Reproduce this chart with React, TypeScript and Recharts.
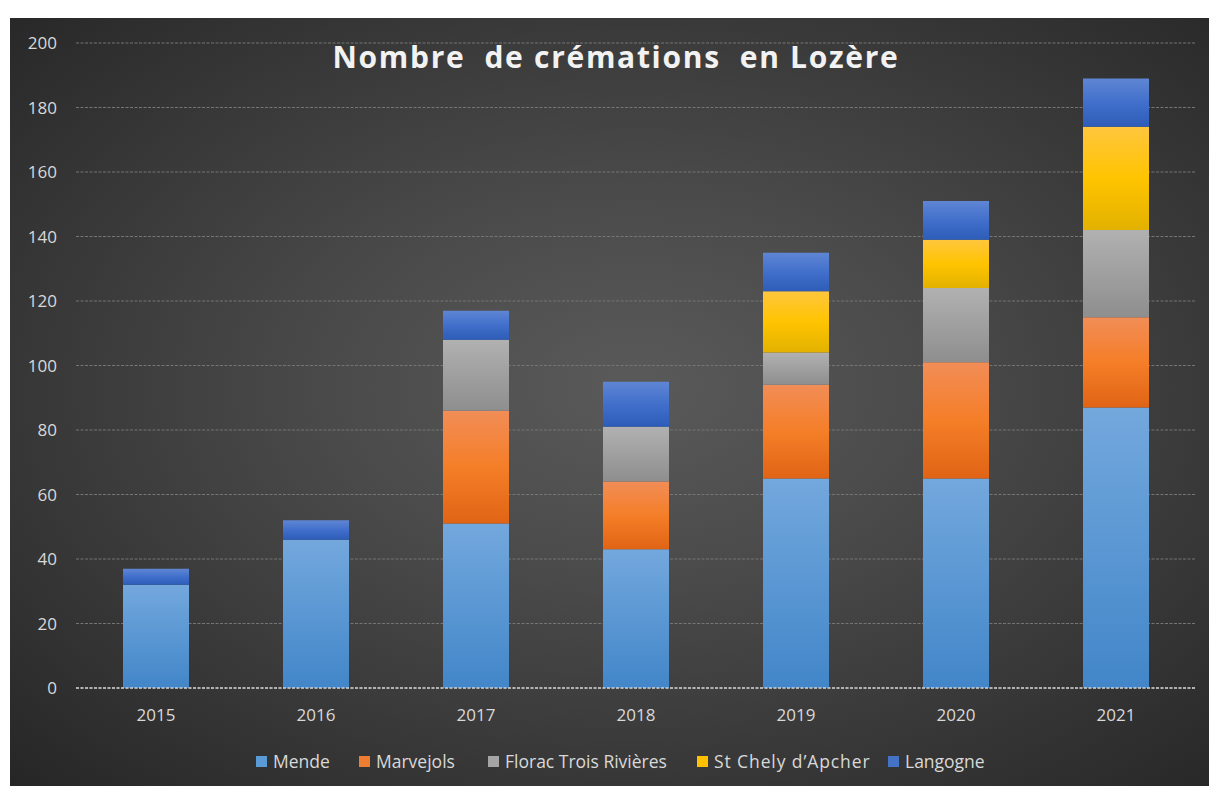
import React from 'react';
import { BarChart, Bar, XAxis, YAxis, CartesianGrid, Legend, ReferenceLine } from 'recharts';

const years = ['2015', '2016', '2017', '2018', '2019', '2020', '2021'];
const mende = [32, 46, 51, 43, 65, 65, 87];
const marvejols = [0, 0, 35, 21, 29, 36, 28];
const florac = [0, 0, 22, 17, 10, 23, 27];
const stChely = [0, 0, 0, 0, 19, 15, 32];
const langogne = [5, 6, 9, 14, 12, 12, 15];
const yTicks = [0, 20, 40, 60, 80, 100, 120, 140, 160, 180, 200];

const seriesNames = ['Mende', 'Marvejols', 'Florac Trois Rivières', 'St Chely d\u2019Apcher', 'Langogne'];
const seriesKeys = ['mende', 'marvejols', 'florac', 'stChely', 'langogne'];
const swatch = ['#5b9bd5', '#ed7d31', '#a5a5a5', '#ffc000', '#4472c4'];
const legendX = [246, 349, 478, 687, 878];
const legendSpacing = [0, 0, 0, 0.9, 0];

const data = years.map((y, i) => ({
  year: y,
  mende: mende[i],
  marvejols: marvejols[i],
  florac: florac[i],
  stChely: stChely[i],
  langogne: langogne[i],
}));

const FONT = '"Open Sans", sans-serif';

const LegendContent = () => (
  <div
    style={{
      position: 'relative',
      height: 30,
      fontFamily: FONT,
      fontSize: 17.5,
      color: '#d9d9d9',
    }}
  >
    {seriesNames.map((n, i) => (
      <div
        key={n}
        style={{ position: 'absolute', left: legendX[i], top: 0, height: 30, display: 'flex', alignItems: 'center' }}
      >
        <span style={{ display: 'inline-block', width: 11, height: 11, background: swatch[i], marginRight: 6 }} />
        <span style={{ whiteSpace: 'pre', letterSpacing: legendSpacing[i] }}>{n}</span>
      </div>
    ))}
  </div>
);

export default function App() {
  return (
    <div style={{ position: 'absolute', left: 0, top: 0, width: 1209, height: 786, background: '#ffffff', overflow: 'hidden' }}>
      <div
        style={{
          position: 'absolute',
          left: 10,
          top: 18,
          width: 1199,
          height: 768,
          background: 'radial-gradient(ellipse farthest-corner at 52% 48%, #5a5a5a 0%, #4a4a4a 35%, #262626 100%)',
        }}
      >
        <div
          style={{
            position: 'absolute',
            left: 606,
            top: 24,
            transform: 'translateX(-50%)',
            fontFamily: FONT,
            fontWeight: 700,
            fontSize: 30,
            lineHeight: '30px',
            letterSpacing: 1.7,
            color: '#f2f2f2',
            whiteSpace: 'pre',
            zIndex: 2,
          }}
        >
          {'Nombre  de crémations  en Lozère'}
        </div>
        <BarChart
          width={1199}
          height={768}
          data={data}
          margin={{ top: 25, right: 13, left: 0, bottom: 10 }}
          barSize={66}
        >
          <defs>
            <linearGradient id="gMende" x1="0" y1="0" x2="0" y2="1">
              <stop offset="0%" stopColor="#73a8dd" />
              <stop offset="100%" stopColor="#4286c9" />
            </linearGradient>
            <linearGradient id="gMarvejols" x1="0" y1="0" x2="0" y2="1">
              <stop offset="0%" stopColor="#f18d57" />
              <stop offset="50%" stopColor="#f57e28" />
              <stop offset="100%" stopColor="#e06414" />
            </linearGradient>
            <linearGradient id="gFlorac" x1="0" y1="0" x2="0" y2="1">
              <stop offset="0%" stopColor="#b1b1b1" />
              <stop offset="100%" stopColor="#8e8e8e" />
            </linearGradient>
            <linearGradient id="gStChely" x1="0" y1="0" x2="0" y2="1">
              <stop offset="0%" stopColor="#ffc63e" />
              <stop offset="50%" stopColor="#ffc400" />
              <stop offset="100%" stopColor="#e2b100" />
            </linearGradient>
            <linearGradient id="gLangogne" x1="0" y1="0" x2="0" y2="1">
              <stop offset="0%" stopColor="#5f86d4" />
              <stop offset="50%" stopColor="#416fcb" />
              <stop offset="100%" stopColor="#2d5db8" />
            </linearGradient>
          </defs>
          <CartesianGrid vertical={false} stroke="#757575" strokeDasharray="3 1.5" />
          <XAxis
            dataKey="year"
            axisLine={false}
            tickLine={false}
            tickSize={0}
            tickMargin={21}
            height={58}
            tick={{ fill: '#d9d9d9', fontSize: 17, fontFamily: FONT }}
          />
          <YAxis
            domain={[0, 200]}
            ticks={yTicks}
            interval={0}
            axisLine={false}
            tickLine={false}
            tickSize={0}
            tickMargin={19}
            width={66}
            tick={{ fill: '#d9d9d9', fontSize: 17, fontFamily: FONT }}
          />
          <Legend verticalAlign="bottom" height={30} content={<LegendContent />} />
          {seriesKeys.map((k, i) => (
            <Bar
              key={k}
              dataKey={k}
              name={seriesNames[i]}
              stackId="a"
              fill={`url(#g${k.charAt(0).toUpperCase() + k.slice(1)})`}
              isAnimationActive={false}
            />
          ))}
          <ReferenceLine y={0} stroke="#d0d0d0" strokeDasharray="3 1.5" strokeWidth={1.5} />
        </BarChart>
      </div>
    </div>
  );
}
